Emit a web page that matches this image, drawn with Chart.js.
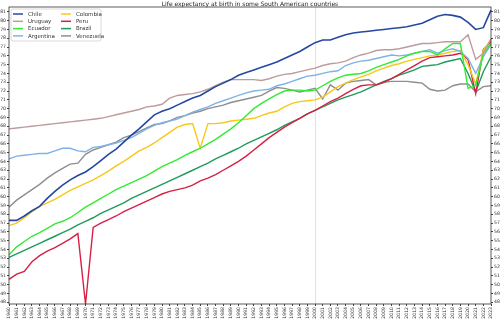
<!DOCTYPE html>
<html>
<head>
<meta charset="utf-8">
<script src="https://cdn.jsdelivr.net/npm/chart.js@4/dist/chart.umd.min.js"></script>
<style>
  html, body { margin: 0; padding: 0; background: #fff; }
  #wrap { width: 500px; height: 323px; position: relative; }
</style>
</head>
<body>
<div id="wrap"><canvas id="c" width="500" height="323"></canvas></div>
<script>
const years = [1960,1961,1962,1963,1964,1965,1966,1967,1968,1969,1970,1971,1972,1973,1974,1975,1976,1977,1978,1979,
  1980,1981,1982,1983,1984,1985,1986,1987,1988,1989,1990,1991,1992,1993,1994,1995,1996,1997,1998,1999,
  2000,2001,2002,2003,2004,2005,2006,2007,2008,2009,2010,2011,2012,2013,2014,2015,2016,2017,2018,2019,
  2020,2021,2022,2023];

const chile = [57.3,57.3,57.8,58.4,58.9,59.8,60.6,61.3,61.9,62.4,62.8,63.4,64.1,64.8,65.4,66.2,67.0,67.7,68.5,69.3,
  69.7,70.0,70.4,70.8,71.2,71.5,72.0,72.5,72.9,73.3,73.8,74.1,74.4,74.7,75.0,75.3,75.7,76.1,76.5,77.0,
  77.5,77.8,77.8,78.1,78.4,78.6,78.7,78.8,78.9,79.0,79.1,79.2,79.3,79.5,79.7,80.1,80.5,80.7,80.6,80.4,
  79.8,79.0,79.2,81.2];
const uruguay = [67.7,67.8,67.9,68.0,68.1,68.2,68.3,68.4,68.5,68.6,68.7,68.8,68.9,69.1,69.3,69.5,69.7,69.9,70.2,70.3,
  70.5,71.2,71.5,71.6,71.7,71.9,72.2,72.6,73.0,73.3,73.3,73.3,73.3,73.2,73.4,73.7,73.9,74.0,74.2,74.4,
  74.6,74.9,75.1,75.2,75.4,75.8,76.1,76.3,76.6,76.7,76.7,76.8,77.0,77.2,77.4,77.4,77.5,77.6,77.6,77.6,
  78.4,75.6,76.3,77.9];
const ecuador = [53.4,54.3,54.9,55.5,55.9,56.4,56.9,57.2,57.6,58.2,58.8,59.3,59.8,60.3,60.8,61.2,61.6,62.0,62.4,62.9,
  63.4,63.8,64.2,64.7,65.1,65.5,66.0,66.5,67.1,67.7,68.4,69.2,70.0,70.6,71.1,71.6,72.0,72.1,72.1,72.0,
  72.1,72.6,73.1,73.5,73.8,73.9,74.0,74.3,74.7,75.0,75.3,75.6,76.0,76.3,76.5,76.5,76.1,76.8,77.4,77.4,
  72.3,72.6,76.2,77.4];
const argentina = [64.3,64.6,64.7,64.8,64.9,64.9,65.2,65.5,65.5,65.2,65.1,65.6,65.7,65.9,66.1,66.4,66.7,67.2,67.7,68.1,
  68.4,68.6,68.8,69.2,69.6,69.9,70.2,70.6,70.9,71.2,71.5,71.8,72.0,72.1,72.2,72.6,72.8,73.1,73.4,73.7,
  73.8,74.0,74.2,74.3,74.9,75.2,75.4,75.5,75.7,75.9,76.1,76.0,76.1,76.3,76.5,76.7,76.3,76.6,76.8,76.5,
  75.7,74.0,75.9,77.3];
const colombia = [56.7,57.0,57.6,58.3,58.9,59.3,59.7,60.2,60.7,61.1,61.5,61.9,62.4,62.9,63.5,64.0,64.6,65.2,65.6,66.1,
  66.7,67.3,67.9,68.2,68.3,65.5,68.3,68.3,68.4,68.6,68.7,68.8,68.9,69.2,69.5,69.7,70.2,70.6,70.8,70.9,
  71.0,71.3,71.9,72.5,72.9,73.3,73.6,73.9,74.3,74.6,74.9,75.1,75.4,75.6,75.8,76.0,76.1,76.3,76.5,76.6,
  75.0,72.8,76.6,77.9];
const peru = [50.6,51.2,51.5,52.6,53.3,53.8,54.2,54.7,55.2,55.8,47.8,56.5,57.0,57.4,57.8,58.3,58.7,59.1,59.5,59.9,
  60.3,60.6,60.8,61.0,61.3,61.8,62.1,62.5,63.0,63.5,64.0,64.6,65.3,66.0,66.7,67.3,67.9,68.4,68.9,69.4,
  69.8,70.3,70.8,71.2,71.7,72.2,72.6,72.7,72.7,73.0,73.4,73.9,74.4,74.9,75.4,75.8,75.9,76.0,76.1,76.3,
  75.6,71.7,76.7,77.6];
const brazil = [53.1,53.5,53.9,54.3,54.7,55.1,55.5,55.9,56.3,56.8,57.2,57.6,58.1,58.5,58.9,59.3,59.8,60.2,60.6,61.0,
  61.4,61.8,62.2,62.6,63.0,63.4,63.8,64.3,64.7,65.1,65.5,66.0,66.4,66.8,67.2,67.6,68.1,68.5,68.9,69.4,
  69.8,70.2,70.6,71.0,71.3,71.6,71.9,72.3,72.7,73.1,73.4,73.8,74.1,74.4,74.8,74.9,75.0,75.3,75.5,75.7,
  74.0,71.9,74.2,75.9];
const venezuela = [58.8,59.6,60.2,60.8,61.4,62.1,62.7,63.2,63.7,63.8,64.8,65.3,65.6,65.9,66.2,66.7,67.0,67.4,67.8,68.2,
  68.3,68.6,69.0,69.2,69.5,69.7,70.0,70.2,70.4,70.7,70.9,71.1,71.3,71.5,72.0,72.4,72.3,72.1,71.9,72.1,
  72.3,71.1,72.7,72.1,72.9,73.1,73.2,73.3,72.7,73.0,73.1,73.1,73.1,73.0,72.9,72.2,72.0,72.1,72.6,72.8,
  72.8,71.9,72.5,72.6];

const countries = ['Chile','Uruguay','Ecuador','Argentina','Colombia','Peru','Brazil','Venezuela'];
const seriesValues = [chile, uruguay, ecuador, argentina, colombia, peru, brazil, venezuela];
const colors = ['#2449a3','#bc9c9c','#33ea33','#7fb3e6','#f7c81a','#d62046','#1f9b5c','#8e8e8e'];

const FONT = "'DejaVu Sans', 'Liberation Sans', sans-serif";

const framePlugin = {
  id: 'frame',
  afterDatasetsDraw(chart) {
    const a = chart.chartArea, ctx = chart.ctx;
    ctx.save();
    ctx.strokeStyle = '#333';
    ctx.lineWidth = 0.8;
    ctx.strokeRect(a.left, a.top, a.right - a.left, a.bottom - a.top);
    ctx.restore();
  }
};

const legendPlugin = {
  id: 'innerLegend',
  afterDraw(chart) {
    const a = chart.chartArea, ctx = chart.ctx;
    const bx = a.left + 2, by = a.top + 2, bw = 90, bh = 32;
    ctx.save();
    ctx.fillStyle = 'rgba(255,255,255,0.85)';
    ctx.strokeStyle = '#d0d0d0';
    ctx.lineWidth = 0.8;
    ctx.beginPath();
    if (ctx.roundRect) ctx.roundRect(bx, by, bw, bh, 2); else ctx.rect(bx, by, bw, bh);
    ctx.fill(); ctx.stroke();
    ctx.font = '5.5px ' + FONT;
    ctx.textBaseline = 'middle';
    ctx.textAlign = 'left';
    chart.data.datasets.forEach((ds, i) => {
      const col = Math.floor(i / 4), row = i % 4;
      const x0 = bx + 2 + col * 48;
      const y0 = by + 5 + row * 7.3;
      ctx.strokeStyle = ds.borderColor;
      ctx.lineWidth = 1.5;
      ctx.beginPath();
      ctx.moveTo(x0, y0); ctx.lineTo(x0 + 10, y0);
      ctx.stroke();
      ctx.fillStyle = '#333';
      ctx.fillText(ds.label, x0 + 15, y0 + 0.3);
    });
    ctx.restore();
  }
};

const yTicks = {
  stepSize: 1,
  includeBounds: false,
  autoSkip: false,
  font: { size: 4.6, family: FONT },
  color: '#333',
  padding: 1
};

new Chart(document.getElementById('c'), {
  type: 'line',
  data: {
    labels: years.map(String),
    datasets: countries.map((name, i) => ({
      label: name,
      data: seriesValues[i],
      borderColor: colors[i],
      backgroundColor: colors[i],
      borderWidth: i === 0 ? 1.6 : 1.4,
      pointRadius: 0,
      tension: 0,
      fill: false
    }))
  },
  options: {
    responsive: false,
    animation: false,
    layout: { padding: 0 },
    plugins: {
      legend: { display: false },
      tooltip: { enabled: false },
      title: {
        display: true,
        text: 'Life expectancy at birth in some South American countries',
        font: { size: 6, family: FONT, weight: 'normal', lineHeight: 1 },
        color: '#222',
        padding: { top: 1, bottom: 0 }
      }
    },
    scales: {
      x: {
        type: 'category',
        offset: false,
        grid: {
          display: true,
          drawOnChartArea: true,
          drawTicks: true,
          tickLength: 2,
          tickColor: '#444',
          color: (ctx) => (ctx.tick && ctx.tick.label === '2000') ? '#e2e2e2' : 'rgba(0,0,0,0)'
        },
        border: { display: false },
        ticks: {
          autoSkip: false,
          maxRotation: 90,
          minRotation: 90,
          font: { size: 4.6, family: FONT },
          color: '#333',
          padding: 1
        },
        afterFit(scale) { scale.height = 19; }
      },
      y: {
        position: 'left',
        min: 47.8,
        max: 81.55,
        grid: { display: true, drawOnChartArea: false, tickLength: 2, tickColor: '#444' },
        border: { display: false },
        ticks: yTicks,
        afterFit(scale) { scale.width = 9; }
      },
      y2: {
        position: 'right',
        min: 47.8,
        max: 81.55,
        grid: { display: true, drawOnChartArea: false, tickLength: 2, tickColor: '#444' },
        border: { display: false },
        ticks: yTicks,
        afterFit(scale) { scale.width = 9; }
      }
    }
  },
  plugins: [framePlugin, legendPlugin]
});
</script>
</body>
</html>
